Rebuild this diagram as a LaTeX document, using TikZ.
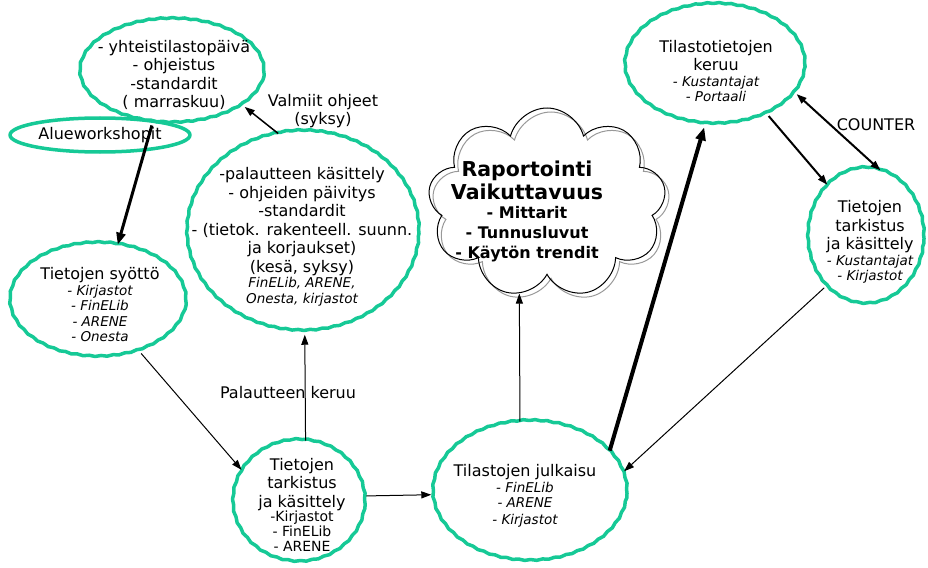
\documentclass[tikz,border=0pt]{standalone}
\usepackage{fontspec}
\setmainfont{DejaVu Sans}
\usepackage{tikz}
\usetikzlibrary{arrows.meta,positioning,shapes,decorations.pathmorphing}
\definecolor{kehys}{RGB}{22,201,150}
\newcommand\pien[1]{{\fontsize{13.5}{15}\selectfont\itshape #1}}
\newcommand\pienp[1]{{\fontsize{14}{15}\selectfont #1}}

\begin{document}
\begin{tikzpicture}[x=1pt,y=-1pt,line width=1pt,
  >={Triangle[length=10pt,width=7pt]},
  pallo0/.style={ellipse, draw=kehys, line width=3.5pt, line join=round, inner sep=0pt},
  pallo/.style={pallo0, decorate, decoration={snake, amplitude=0.5pt, segment length=12pt}},
  teksti/.style={align=center, inner sep=0pt, font=\fontsize{16}{18.5}\selectfont},
  pilvi/.style={cloud, cloud puffs=9, aspect=1.3, inner sep=0pt, minimum width=238, minimum height=190}]
\useasboundingbox (0,0) rectangle (928,567);

% ellipsit
\node[pallo, minimum width=184, minimum height=104] (yht) at (172,73) {};
\node[teksti] (yht-t) at (174,75) {- yhteistilastopäivä\\- ohjeistus\\-standardit\\( marraskuu)};
\node[pallo0, minimum width=180, minimum height=34] (alue) at (100,135) {};
\node[teksti] (alue-t) at (100,135) {Alueworkshopit};
\node[pallo, minimum width=232, minimum height=200] (kasit) at (303,233) {};
\node[teksti] (kasit-t) at (302,237) {-palautteen käsittely\\- ohjeiden päivitys\\-standardit\\- (tietok. rakenteell. suunn.\\ja korjaukset)\\(kesä, syksy)\\[-3pt]\pien{FinELib, ARENE,}\\[-3pt]\pien{Onesta, kirjastot}};
\node[pallo, minimum width=176, minimum height=114] (syot) at (98,302) {};
\node[teksti] (syot-t) at (100,305) {Tietojen syöttö\\[-3pt]\pien{- Kirjastot}\\[-3pt]\pien{- FinELib}\\[-3pt]\pien{- ARENE}\\[-3pt]\pien{- Onesta}};
\node[pallo, minimum width=132, minimum height=122] (tk1) at (299,503) {};
\node[teksti] (tk1-t) at (302,505) {Tietojen\\tarkistus\\ja käsittely\\[-4pt]\pienp{-Kirjastot}\\[-4pt]\pienp{- FinELib}\\[-3pt]\pienp{- ARENE}};
\node[pallo, minimum width=194, minimum height=140] (julk) at (530,493) {};
\node[teksti] (julk-t) at (525,496) {Tilastojen julkaisu\\[-3pt]\pien{- FinELib}\\[-3pt]\pien{- ARENE}\\[-2pt]\pien{- Kirjastot}};
\node[pallo, minimum width=180, minimum height=120] (keruu) at (715,66) {};
\node[teksti] (keruu-t) at (716,71) {Tilastotietojen\\keruu\\[-3pt]\pien{- Kustantajat}\\[-3pt]\pien{- Portaali}};
\node[pallo, minimum width=116, minimum height=136] (rtk) at (866,238) {};
\node[teksti] (rtk-t) at (870,242) {Tietojen\\tarkistus\\ja käsittely\\[-3pt]\pien{- Kustantajat}\\[-3pt]\pien{- Kirjastot}};

% pilvi
\node[pilvi, draw=black!40] (rap-v) at (551,207) {};
\node[pilvi, draw] (rap) at (547,203) {};
\node[teksti, font=\bfseries\fontsize{20.5}{23}\selectfont] (rap-t) at (527,211) {Raportointi\\Vaikuttavuus\\[-4pt]{\fontsize{16}{19}\selectfont - Mittarit}\\[-3pt]{\fontsize{16}{19}\selectfont - Tunnusluvut}\\[-3pt]{\fontsize{16}{19}\selectfont - Käytön trendit}};

% tekstit
\node[teksti] (valm) at (323,111) {Valmiit ohjeet\\(syksy)};
\node[teksti] (pal) at (288,393) {Palautteen keruu};
\node[teksti] (cnt) at (876,125) {COUNTER};

% nuolet
\draw[line width=3pt, -{Triangle[length=12pt,width=9pt]}] (yht.249) -- (syot.71);
\draw[line width=1.5pt, ->] (kasit.104) -- (yht.-25);
\draw[->] (syot.-50) -- (tk1.150);
\draw[->] (tk1.84) -- (kasit.-89);
\draw[->] (tk1.6) -- (julk.181);
\draw[->] (julk.98) -- (rap.-107);
\draw[line width=4pt, -{Triangle[length=13pt,width=10pt]}] (julk.28) -- (keruu.260);
\draw[line width=2pt, ->] (keruu.-43) -- (rtk.126);
\draw[line width=2pt, <->] (keruu.-19) -- (rtk.78);
\draw[->] (rtk.-130) -- (julk.13);
\end{tikzpicture}
\end{document}
